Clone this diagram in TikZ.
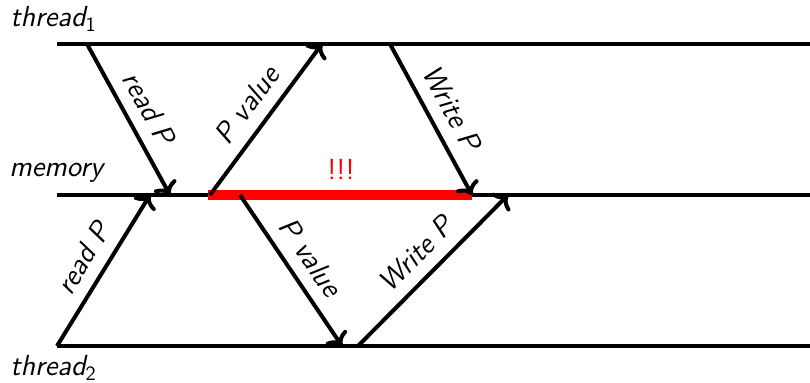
\documentclass[tikz,border=0pt]{standalone}
\usepackage{tikz}
\usetikzlibrary{arrows.meta,positioning,calc}

\begin{document}
\begin{tikzpicture}[
    x=0.5pt, y=-0.5pt,
    lane/.style={line width=2pt},
    msg/.style={->, line width=2pt},
    lbl/.style={font=\sffamily\itshape\fontsize{14.5}{16}\selectfont},
    tag/.style={lbl, sloped, above=2.5pt, pos=0.5},
    conflict/.style={draw=red, line width=5pt},
]
\useasboundingbox (0,0) rectangle (810,383);

% Lanes
\coordinate (t1a) at (57,44);  \coordinate (t1b) at (810,44);
\coordinate (mema) at (57,195); \coordinate (memb) at (810,195);
\coordinate (t2a) at (57,346);  \coordinate (t2b) at (810,346);

\node[lbl, anchor=base west, inner sep=0pt] (t1name) at (10,27) {thread\textsubscript{\upshape 1}};
\node[lbl, anchor=base west, inner sep=0pt] (memname) at (9,177) {memory};
\node[lbl, anchor=base west, inner sep=0pt] (t2name) at (10,376) {thread\textsubscript{\upshape 2}};

\draw[lane] (t1a) -- (t1b);
\draw[lane] (mema) -- (memb);
\draw[lane] (t2a) -- (t2b);

% Conflict window
\coordinate (bada) at (208,195);
\coordinate (badb) at (472,195);
\draw[conflict] (bada) -- (badb);
\node[font=\sffamily\fontsize{14.5}{16}\selectfont, text=red] (bang) at (341,169) {!!!};

% Thread 1 messages
\coordinate (rd1s) at (87,44);   \coordinate (rd1e) at (170,195);
\coordinate (pv1s) at (210,195); \coordinate (pv1e) at (322,44);
\coordinate (wr1s) at (390,44);  \coordinate (wr1e) at (472,195);

\draw[msg] (rd1s) -- (rd1e) node[tag] {read P};
\draw[msg] (pv1s) -- (pv1e) node[tag] {P value};
\draw[msg] (wr1s) -- (wr1e) node[tag] {Write P};

% Thread 2 messages
\coordinate (rd2s) at (57,346);  \coordinate (rd2e) at (150,195);
\coordinate (pv2s) at (240,195); \coordinate (pv2e) at (342,346);
\coordinate (wr2s) at (358,346); \coordinate (wr2e) at (508,195);

\draw[msg] (rd2s) -- (rd2e) node[tag] {read P};
\draw[msg] (pv2s) -- (pv2e) node[tag] {P value};
\draw[msg] (wr2s) -- (wr2e) node[tag] {Write P};

\end{tikzpicture}
\end{document}
